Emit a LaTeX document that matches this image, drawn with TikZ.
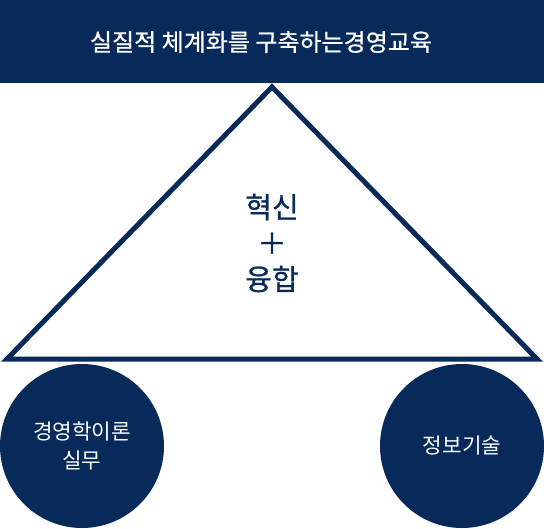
\documentclass[tikz,border=0pt]{standalone}
\usepackage{fontspec}
\newfontfamily\kr{Noto Sans CJK KR}
\newfontfamily\krm[FakeBold=0.8]{Noto Sans CJK KR}
\usepackage{tikz}
\usetikzlibrary{positioning}
\definecolor{navy}{HTML}{072A5A}
\tikzset{
    banner/.style={fill=navy, draw=none, minimum width=544pt, minimum height=83pt, inner sep=0pt},
    heading/.style={text=white, inner sep=0pt, font=\krm\fontsize{24}{28}\selectfont},
    pillar/.style={circle, fill=navy, draw=none, minimum size=164pt, inner sep=0pt, text=white, align=center, font=\kr\fontsize{21.3}{29}\selectfont},
    core/.style={text=navy, align=center, font=\krm\fontsize{29}{36}\selectfont}
}

\begin{document}
\begin{tikzpicture}[x=1pt, y=-1pt]
    \useasboundingbox (0,0) rectangle (544,528);

    % 상단 제목
    \node[banner, anchor=north west] (title) at (0,0) {};
    \node[heading] (titletext) at (261,42) {실질적 체계화를 구축하는경영교육};

    % 삼각형
    \coordinate (apex) at (272,87);
    \coordinate (bl) at (7,359);
    \coordinate (br) at (537,359);
    \draw[navy, line width=5pt, line join=miter, fill=white] (apex) -- (bl) -- (br) -- cycle;
    \node[core] (centre) at (272,243) {혁신\\＋\\융합};

    % 하단 원
    \node[pillar] (theory) at (82,446) {경영학이론\\실무};
    \node[pillar] (tech) at (462,446) {정보기술};

\end{tikzpicture}
\end{document}
